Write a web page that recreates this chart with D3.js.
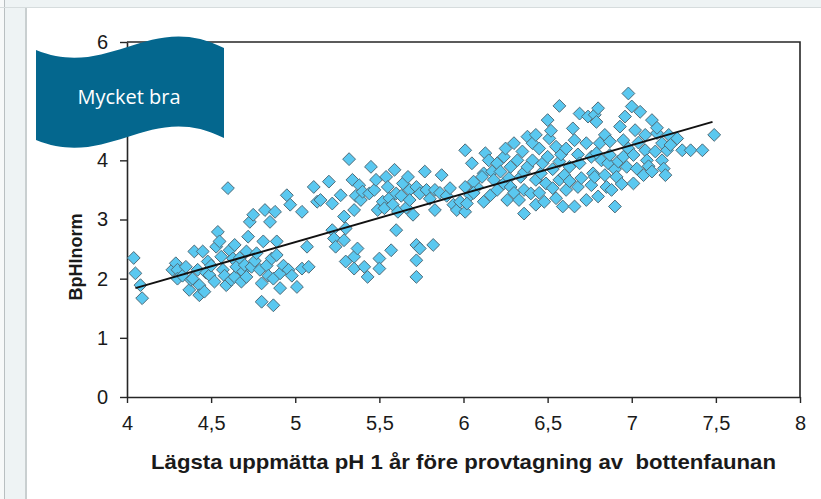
<!DOCTYPE html>
<html>
<head>
<meta charset="utf-8">
<script src="https://cdn.jsdelivr.net/npm/d3@7"></script>
<style>
  html, body { margin: 0; padding: 0; background: #eef3f4; }
  svg { display: block; }
</style>
</head>
<body>
<svg id="chart" width="821" height="499"></svg>
<script>
// Lowest measured pH one year before sampling (x) and BpHInorm (y)
const phValues = [
  4.04,4.05,4.08,4.09,4.27,4.29,4.30,4.30,4.33,4.35,4.37,4.38,4.39,4.40,4.42,4.43,4.43,4.45,4.46,4.47,
  4.48,4.49,4.50,4.52,4.53,4.54,4.55,4.56,4.57,4.58,4.59,4.60,4.61,4.62,4.63,4.64,4.64,4.65,4.67,4.68,
  4.69,4.70,4.71,4.71,4.72,4.73,4.74,4.75,4.76,4.77,4.79,4.80,4.80,4.81,4.82,4.83,4.84,4.85,4.86,4.87,
  4.87,4.88,4.89,4.89,4.91,4.91,4.93,4.95,4.96,4.97,4.98,5.01,5.04,5.04,5.07,5.08,5.11,5.13,
  5.15,5.20,5.22,5.22,5.23,5.24,5.27,5.29,5.29,5.30,5.30,5.32,5.34,5.35,5.35,5.35,5.36,5.37,5.38,5.39,
  5.40,5.41,5.43,5.44,5.45,5.47,5.48,5.49,5.50,5.50,5.52,5.53,5.54,5.55,5.56,5.57,5.58,5.59,5.60,5.60,
  5.61,5.63,5.64,5.66,5.67,5.68,5.68,5.70,5.72,5.72,5.72,5.72,5.74,5.74,5.77,5.78,5.80,5.82,5.83,5.83,
  5.86,5.87,5.90,5.92,5.94,5.96,5.98,6.01,6.01,6.01,6.04,6.05,6.08,6.12,6.13,6.15,6.17,
  6.02,6.06,6.06,6.11,6.12,6.16,6.18,6.20,6.20,6.22,6.24,6.24,6.25,6.26,6.27,6.28,6.28,6.30,6.30,6.32,
  6.33,6.34,6.35,6.36,6.36,6.36,6.38,6.38,6.40,6.41,6.41,6.43,6.43,6.43,6.45,6.45,6.46,6.47,6.48,6.49,
  6.50,6.50,6.51,6.52,6.53,6.53,6.55,6.55,6.57,6.57,6.57,6.58,6.59,6.60,6.61,6.61,6.63,6.63,6.65,6.66,
  6.66,6.68,6.68,6.69,6.69,6.70,6.73,6.73,6.74,6.76,6.77,
  6.76,6.78,6.78,6.79,6.79,6.80,6.80,6.81,6.82,6.84,6.84,6.85,6.86,6.87,6.87,6.88,6.90,6.90,6.91,6.92,
  6.93,6.94,6.95,6.95,6.96,6.97,6.98,6.98,7.00,7.01,7.01,7.02,7.03,7.04,7.05,7.07,7.08,7.08,7.09,7.10,
  7.12,7.12,7.14,7.15,7.15,7.18,7.18,7.19,7.20,7.21,7.22,7.23,7.27,7.30,7.35,7.42,7.49
];
const bphValues = [
  2.35,2.09,1.89,1.67,2.15,2.26,2.15,2.00,2.05,2.20,1.81,1.98,2.00,2.46,2.15,1.89,1.72,2.46,1.78,2.10,
  2.29,2.06,2.22,1.95,2.54,2.79,2.63,2.37,2.15,2.05,1.89,3.53,2.48,1.98,2.34,2.57,2.03,2.20,2.35,1.95,
  2.12,2.23,2.46,2.03,2.71,2.96,2.20,3.08,2.30,2.43,2.15,1.92,1.61,2.63,3.16,2.22,2.05,2.96,2.34,2.00,
  1.55,3.13,2.63,2.40,2.09,1.84,2.22,3.41,2.15,3.25,2.05,1.86,3.13,2.17,2.54,2.20,3.55,3.30,
  3.33,3.64,3.27,2.82,2.68,2.54,3.41,3.05,2.65,2.85,2.29,4.02,3.67,3.16,2.37,2.17,3.40,2.51,3.58,3.33,
  3.47,2.20,2.03,3.44,3.89,3.50,3.67,3.16,2.34,2.17,3.30,3.19,3.72,3.55,3.36,2.48,3.25,3.84,3.44,2.82,
  3.13,3.40,3.61,3.20,3.72,3.50,3.33,3.08,3.55,2.57,2.31,2.03,3.44,2.51,3.81,3.50,3.35,2.57,3.16,3.50,
  3.45,3.75,3.40,3.53,3.25,3.16,3.30,3.55,3.13,4.17,3.41,3.95,3.55,3.78,4.12,4.00,3.81,
  3.27,3.64,3.45,3.72,3.30,3.41,3.67,3.95,3.50,3.81,4.06,3.61,4.20,3.33,3.70,3.89,3.55,4.29,3.45,4.00,
  3.33,3.72,4.15,3.50,3.10,3.80,3.89,4.40,3.44,4.29,4.00,4.43,3.67,3.25,4.20,3.45,3.78,3.95,3.30,3.61,
  4.68,4.06,4.37,4.50,3.53,3.85,4.23,3.36,4.92,3.98,3.67,4.10,3.22,3.75,4.20,3.50,3.89,3.65,4.54,4.34,
  3.22,3.55,4.10,4.79,3.95,3.70,4.29,3.33,4.74,4.06,3.78,
  3.58,4.77,3.72,4.65,4.12,4.88,3.39,4.29,4.00,4.43,3.75,3.55,3.95,4.32,4.09,3.50,3.22,3.85,3.72,3.98,
  4.57,3.60,4.34,4.06,4.74,3.89,5.13,4.20,4.91,4.09,3.61,4.51,3.86,4.30,4.82,3.75,4.43,4.17,4.00,3.90,
  4.68,3.81,4.15,4.46,4.55,4.29,4.00,3.86,3.75,4.17,4.43,4.26,4.37,4.17,4.17,4.17,4.43
];
// Least-squares trend line, drawn between its end points
const trendX = [4.05, 7.48];
const trendY = [1.84, 4.65];

const xTicks = [4, 4.5, 5, 5.5, 6, 6.5, 7, 7.5, 8];
// the label for 5 sits under the banner, so only these are written out
const yTicks = [0, 1, 2, 3, 4, 6];
const xTitle = "Lägsta uppmätta pH 1 år före provtagning av  bottenfaunan";
const yTitle = "BpHInorm";
const bannerText = "Mycket bra";

const svg = d3.select("#chart");

// page frame: grey backdrop, thin side strip and the white slide area
svg.append("rect").attr("width", 821).attr("height", 499).attr("fill", "#eef3f4");
svg.append("rect").attr("x", 0).attr("y", 0).attr("width", 4).attr("height", 499).attr("fill", "#f7f9f9");
svg.append("line").attr("x1", 4.5).attr("x2", 4.5).attr("y1", 0).attr("y2", 499).attr("stroke", "#b9bfc1").attr("stroke-width", 1);
svg.append("line").attr("x1", 0).attr("x2", 821).attr("y1", 7.5).attr("y2", 7.5).attr("stroke", "#d6dcdd").attr("stroke-width", 1);
svg.append("rect").attr("x", 25).attr("y", 8).attr("width", 2).attr("height", 491).attr("fill", "#c9cfd0");
svg.append("rect").attr("x", 27).attr("y", 8).attr("width", 794).attr("height", 491).attr("fill", "#ffffff");

const x = d3.scaleLinear().domain([4, 8]).range([127, 800]);
const y = d3.scaleLinear().domain([0, 6]).range([397, 42]);

const fmt = d => String(d).replace(".", ",");

// axes
const gx = svg.append("g").attr("transform", `translate(0,${y(0)})`)
  .call(d3.axisBottom(x).tickValues(xTicks).tickFormat(fmt).tickSize(6).tickPadding(13).tickSizeOuter(0));
const gy = svg.append("g").attr("transform", `translate(${x(4)},0)`)
  .call(d3.axisLeft(y).tickValues(yTicks).tickFormat(fmt).tickSize(7).tickPadding(12).tickSizeOuter(0));
[gx, gy].forEach(g => {
  g.selectAll(".domain").attr("stroke", "#262626").attr("stroke-width", 1.6);
  g.selectAll(".tick line").attr("stroke", "#262626").attr("stroke-width", 1.4);
  g.selectAll(".tick text").attr("fill", "#1a1a1a")
    .style("font-family", "'Liberation Sans', Arial, sans-serif").style("font-size", "20px");
});

// top and right edges of the plot frame
svg.append("path")
  .attr("d", d3.line()([[x(4), y(6)], [x(8), y(6)], [x(8), y(0)]]))
  .attr("fill", "none").attr("stroke", "#262626").attr("stroke-width", 1.6);

// data points as diamonds
const points = phValues.map((v, i) => ({ ph: v, b: bphValues[i] }));
const diamond = d3.symbol().type(d3.symbolDiamond2).size(105);
svg.append("g").selectAll("path").data(points).join("path")
  .attr("d", diamond)
  .attr("transform", d => `translate(${x(d.ph)},${y(d.b)})`)
  .attr("fill", "#5ac8f0")
  .attr("stroke", "#4f6b78")
  .attr("stroke-width", 1);

// trend line
svg.append("path")
  .attr("d", d3.line().x(d => x(d[0])).y(d => y(d[1]))(trendX.map((v, i) => [v, trendY[i]])))
  .attr("fill", "none").attr("stroke", "#111").attr("stroke-width", 2);

// axis titles
svg.append("text")
  .attr("x", x(6)).attr("y", 469)
  .attr("text-anchor", "middle")
  .attr("textLength", 625).attr("lengthAdjust", "spacingAndGlyphs")
  .style("white-space", "pre")
  .style("font-family", "'Liberation Sans Narrow', 'Liberation Sans', Arial, sans-serif")
  .style("font-weight", "bold").style("font-size", "21px").attr("fill", "#1a1a1a")
  .text(xTitle);
svg.append("text")
  .attr("transform", "translate(82,257) rotate(-90)")
  .attr("text-anchor", "middle")
  .attr("textLength", 87).attr("lengthAdjust", "spacingAndGlyphs")
  .style("font-family", "'Liberation Sans', Arial, sans-serif")
  .style("font-weight", "bold").style("font-size", "19px").attr("fill", "#1a1a1a")
  .text(yTitle);

// wave banner in the upper left corner
const banner = d3.path();
banner.moveTo(36, 50);
banner.bezierCurveTo(110, 80, 150, 10, 224, 48);
banner.lineTo(224, 138);
banner.bezierCurveTo(150, 100, 110, 170, 36, 140);
banner.closePath();
svg.append("path").attr("d", banner.toString()).attr("fill", "#04678e");
svg.append("text")
  .attr("x", 129).attr("y", 104)
  .attr("text-anchor", "middle")
  .style("font-family", "'Open Sans', 'Noto Sans', sans-serif")
  .style("font-size", "20px").attr("fill", "#ffffff")
  .text(bannerText);
</script>
</body>
</html>
